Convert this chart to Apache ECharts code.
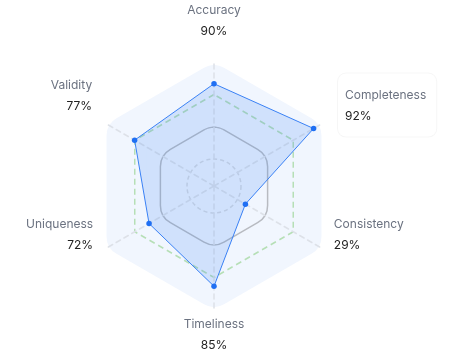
<!DOCTYPE html>
<html><head><meta charset="utf-8">
<script src="https://cdn.jsdelivr.net/npm/echarts@6/dist/echarts.min.js"></script>
<style>html,body{margin:0;padding:0;background:#fff}#c{width:473px;height:358px}</style>
</head><body><div id="c"></div>
<script>
// Indicators in ECharts order (start at top, then counter-clockwise)
const categories = ['Accuracy', 'Validity', 'Uniqueness', 'Timeliness', 'Consistency', 'Completeness'];
const scores = [90, 77, 72, 85, 29, 92];
const indicatorMax = [110, 105, 120, 106, 100, 100];
const highlighted = 'Completeness';

// ---- layout / style (not data) ----
const CENTER = [214, 186];
const R = 125;
const BG = '#f1f6fe';
const FONT = 'Inter';
// per-label nudges: [padLeft, padRight, padBottom, align]
const labelPad = {
  Accuracy: [0, 0, 16, 'center'], Validity: [0, 11, 53, 'right'], Uniqueness: [0, 10, 31, 'right'],
  Timeliness: [0, 0, 0, 'center'], Consistency: [9, 0, 31, 'left']
};
const rich = {};
categories.forEach((c, i) => {
  const p = labelPad[c] || [0, 0, 0, 'left'];
  rich['n' + i] = { fontFamily: FONT, fontSize: 12, color: '#6b7280', lineHeight: 21, align: p[3], padding: [0, p[1], 0, p[0]] };
  rich['v' + i] = { fontFamily: FONT, fontSize: 12, color: '#222', height: 21, align: p[3], padding: [0, p[1], p[2], p[0]] };
});

const blankInd = categories.map(() => ({ max: 100 }));
function ring(opts) {
  return Object.assign({
    center: CENTER, startAngle: 90, shape: 'polygon', splitNumber: 1, indicator: blankInd,
    axisLine: { show: false }, axisName: { show: false }, axisTick: { show: false }, axisLabel: { show: false },
    splitArea: { show: false }, splitLine: { show: false }
  }, opts);
}

const chart = echarts.init(document.getElementById('c'), null, { renderer: 'canvas' });
chart.setOption({
  animation: false,
  backgroundColor: '#fff',
  radar: [
    // 0: rounded outer fill
    ring({ radius: 101, splitArea: { show: true, areaStyle: { color: [BG] } },
      splitLine: { show: true, lineStyle: { color: BG, width: 40, join: 'round', cap: 'round' } } }),
    // 1-2: rounded solid gray ring at 50%
    ring({ radius: 38.8, splitLine: { show: true, lineStyle: { color: '#b8bbc1', width: 41.5, join: 'round', cap: 'round' } } }),
    ring({ radius: 38.8, splitArea: { show: true, areaStyle: { color: [BG] } },
      splitLine: { show: true, lineStyle: { color: BG, width: 38.5, join: 'round', cap: 'round' } } }),
    // 3: green dashed ring at 75%
    ring({ radius: 91.5, splitLine: { show: true, lineStyle: { color: '#b6dfb6', width: 1.5, type: [6, 4] } } }),
    // 4: inner dashed ring at 25%
    ring({ radius: 27, shape: 'circle', splitLine: { show: true, lineStyle: { color: '#d6dae1', width: 1.5, type: [4, 3] } } }),
    // 5: highlighted label holder
    {
      center: CENTER, radius: R, startAngle: 93.15, nameGap: 23.1,
      indicator: categories.map((c, i) => ({ name: c, max: indicatorMax[i] })),
      axisLine: { show: false }, splitLine: { show: false }, splitArea: { show: false },
      axisName: {
        formatter: (name) => {
          const i = categories.indexOf(name);
          return name === highlighted ? '{n|' + name + '}\n{v|' + scores[i] + '%}' : '';
        },
        backgroundColor: '#fff', borderColor: 'rgba(0,0,0,0.035)', borderWidth: 1, borderRadius: 8,
        padding: [11, 10, 10, 7],
        rich: {
          n: { fontFamily: FONT, fontSize: 12, color: '#6b7280', lineHeight: 21 },
          v: { fontFamily: FONT, fontSize: 12, color: '#222', lineHeight: 21 }
        }
      }
    },
    // 6: main radar
    {
      center: CENTER, radius: R, startAngle: 90, shape: 'polygon', nameGap: 3,
      indicator: categories.map((c, i) => ({ name: c, max: indicatorMax[i] })),
      axisLine: { show: true, lineStyle: { color: '#dde1e8', width: 1.5, type: [5, 4] } },
      splitLine: { show: false }, splitArea: { show: false },
      axisName: {
        formatter: (name) => {
          const i = categories.indexOf(name);
          if (name === highlighted) return '';
          return '{n' + i + '|' + name + '}\n{v' + i + '|' + scores[i] + '%}';
        },
        rich: rich
      }
    }
  ],
  series: [{
    type: 'radar', radarIndex: 6, symbol: 'circle', symbolSize: 5.5, silent: true,
    data: [{ value: scores, name: 'Score' }],
    lineStyle: { color: '#3b82f6', width: 1 },
    itemStyle: { color: '#1f6ff3' },
    areaStyle: { color: 'rgba(59,130,246,0.25)' }
  }]
});
</script></body></html>
